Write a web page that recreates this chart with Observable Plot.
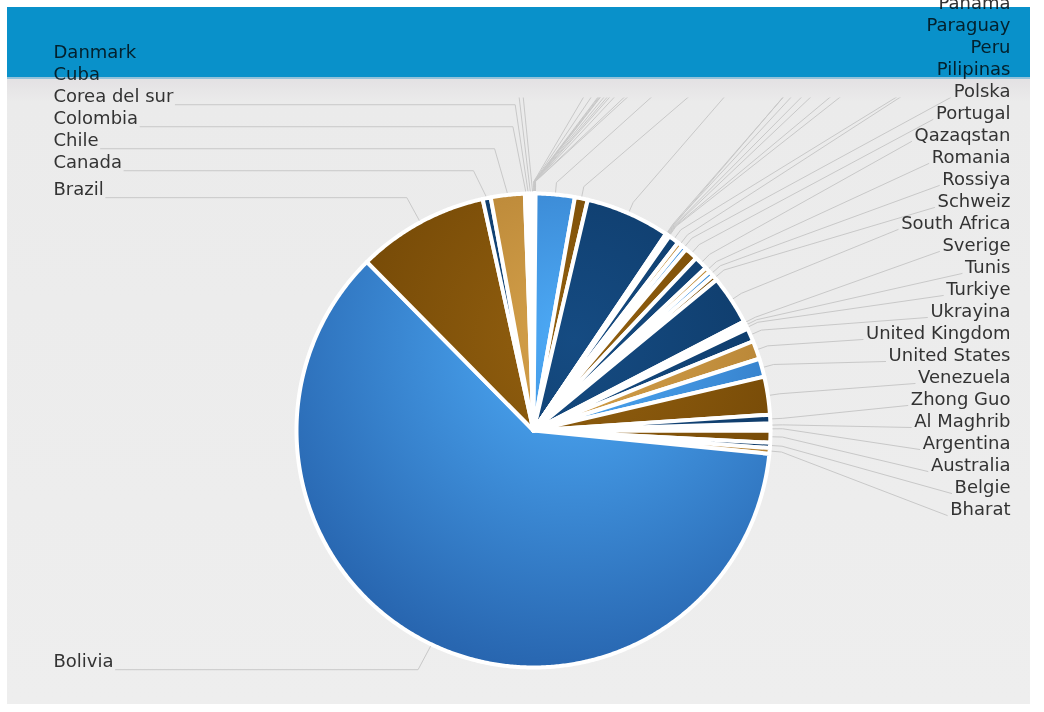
<!DOCTYPE html>
<html>
<head>
<meta charset="utf-8">
<script src="https://cdn.jsdelivr.net/npm/d3@7"></script>
<script src="https://cdn.jsdelivr.net/npm/@observablehq/plot@0.6"></script>
<style>
  body { margin: 0; background: #ffffff; }
  #wrap { position: relative; width: 1044px; height: 712px; overflow: hidden; }
  #bg { position: absolute; left: 7px; top: 7px; width: 1023px; height: 697px;
        background: linear-gradient(to bottom, #e3e1e3 71px, #ebebeb 95px, #eeeeee 100%); }
  #chart { position: absolute; left: 0; top: 0; }
  #band { position: absolute; left: 7px; top: 7px; width: 1023px; height: 70px;
          background: #0aa4e3; mix-blend-mode: multiply; }
  #bandEdge { position: absolute; left: 7px; top: 77px; width: 1023px; height: 2px;
          background: #a6dcf5; mix-blend-mode: multiply; }
</style>
</head>
<body>
<div id="wrap">
  <div id="bg"></div>
  <div id="chart"></div>
  <div id="band"></div>
  <div id="bandEdge"></div>
</div>
<script>
// ---- data (alphabetical order, as drawn clockwise) ----
const countries = ["Al Maghrib","Argentina","Australia","Belgie","Bharat","Bolivia","Brazil","Canada","Chile","Colombia","Corea del sur","Cuba","Danmark","Deutschland","Ecuador","Eesti","Ellada","España","France","Guatemala","Hrvatska","Indonesia","Iran","Italia","Magyarorszag","Mexico","Misr","Nederland","Nihon","Norge","Osterreich","Pakistan","Palestina","Panama","Paraguay","Peru","Pilipinas","Polska","Portugal","Qazaqstan","Romania","Rossiya","Schweiz","South Africa","Sverige","Tunis","Turkiye","Ukrayina","United Kingdom","United States","Venezuela","Zhong Guo"];
const shares = [0.25,0.25,0.81,0.36,0.39,61.03,8.97,0.55,2.31,0.15,0.15,0.15,0.15,0.01,0.01,0.01,0.01,0.01,0.01,0.01,0.01,0.01,0.01,0.01,0.01,2.66,0.88,5.76,0.04,0.04,0.04,0.04,0.04,0.04,0.04,0.72,0.35,0.35,0.90,0.92,0.36,0.36,0.36,3.36,0.18,0.18,0.18,0.92,1.25,1.25,2.58,0.58];

// ---- layout / style ----
const W = 1044, H = 712;
const cx = 533, cy = 430, R = 237;
const deg = Math.PI / 180;
const startDeg = 88.25;
const FONT = 18, FAMILY = "DejaVu Sans";
const leftX = 53, rightX = 1010, rowGap = 22, rightBottom = 509;
// palette cycles: gold, blue, brown, navy  [light, dark]
const palette = [["#d6a24b", "#a6742a"], ["#4eacf8", "#2866b0"], ["#93600f", "#6a4104"], ["#154b82", "#0b335d"]];

const arcs = d3.pie().value(d => d).sort(null)
  .startAngle(startDeg * deg).endAngle(startDeg * deg + 2 * Math.PI)(shares);
const polar = (a, r) => [cx + r * Math.sin(a), cy - r * Math.cos(a)];

// slice polygons
const slicePts = [];
arcs.forEach((a, i) => {
  const name = countries[i];
  const n = Math.max(2, Math.ceil((a.endAngle - a.startAngle) / (0.4 * deg)));
  slicePts.push({name, x: cx, y: cy});
  for (let k = 0; k <= n; k++) {
    const t = a.startAngle + (a.endAngle - a.startAngle) * k / n;
    const [x, y] = polar(t, R);
    slicePts.push({name, x, y});
  }
  slicePts.push({name, x: cx, y: cy});
});

// labels
const ctx = document.createElement("canvas").getContext("2d");
ctx.font = `${FONT}px "${FAMILY}"`;
const TAU = 2 * Math.PI;
const items = arcs.map((a, i) => {
  const mid = (a.startAngle + a.endAngle) / 2;
  const norm = ((mid % TAU) + TAU) % TAU;
  return {name: countries[i], mid, norm, right: norm < Math.PI, w: ctx.measureText(countries[i]).width};
});
const leftLabels = items.filter(d => !d.right).sort((a, b) => a.norm - b.norm);
let prev = Infinity;
for (const d of leftLabels) {
  const ideal = cy - (R + 28) * Math.cos(d.norm) - 8;
  d.ly = Math.min(ideal, prev - rowGap);
  prev = d.ly;
  d.lx = leftX;
}
const rightLabels = items.filter(d => d.right).sort((a, b) => a.norm - b.norm);
rightLabels.forEach((d, i) => {
  d.ly = rightBottom - rowGap * (rightLabels.length - 1 - i);
  d.lx = rightX;
});
// labels stacked entirely above the picture are not drawn (only their leader lines reach in)
const rightShown = rightLabels.filter(d => d.ly > -12);

// leader lines
const leaderPts = [];
for (const d of leftLabels) {
  const [px, py] = polar(d.mid, R + 1);
  leaderPts.push({name: d.name, x: px, y: py});
  leaderPts.push({name: d.name, x: px - 13, y: d.ly + 8});
  leaderPts.push({name: d.name, x: d.lx + d.w + 2, y: d.ly + 8});
}
for (const d of rightLabels) {
  const [px, py] = polar(d.mid, R + 1);
  const [qx, qy] = polar(d.mid, R + 12);
  leaderPts.push({name: d.name, x: px, y: py});
  leaderPts.push({name: d.name, x: qx, y: qy});
  leaderPts.push({name: d.name, x: d.lx - d.w - 3, y: d.ly + 6});
}

const svg = Plot.plot({
  width: W, height: H, margin: 0,
  x: {domain: [0, W], range: [0, W], axis: null},
  y: {domain: [0, H], range: [0, H], axis: null},
  color: {type: "ordinal", domain: countries, range: countries.map((_, i) => `url(#pieGrad${i % 4})`)},
  style: {background: "transparent"},
  marks: [
    Plot.line(leaderPts, {x: "x", y: "y", z: "name", stroke: "#c8c8c8", strokeWidth: 1}),
    Plot.line(slicePts, {x: "x", y: "y", z: "name", fill: "name", stroke: "white", strokeWidth: 4, strokeLinejoin: "round"}),
    Plot.text(leftLabels, {x: "lx", y: "ly", text: "name", textAnchor: "start", fontSize: FONT, fontFamily: FAMILY, fill: "#333333"}),
    Plot.text(rightShown, {x: "lx", y: "ly", text: "name", textAnchor: "end", fontSize: FONT, fontFamily: FAMILY, fill: "#333333"})
  ]
});

const s = d3.select(svg);
const defs = s.insert("defs", ":first-child");
palette.forEach((p, i) => {
  const g = defs.append("radialGradient").attr("id", `pieGrad${i}`)
    .attr("gradientUnits", "userSpaceOnUse")
    .attr("cx", cx + 40).attr("cy", cy - 90).attr("r", 330);
  g.append("stop").attr("offset", 0).attr("stop-color", p[0]);
  g.append("stop").attr("offset", 1).attr("stop-color", p[1]);
});
defs.append("clipPath").attr("id", "leaderClip")
  .append("rect").attr("x", 0).attr("y", 97).attr("width", W).attr("height", H - 97);
s.select('g[aria-label="line"]').attr("clip-path", "url(#leaderClip)");

document.getElementById("chart").appendChild(svg);
</script>
</body>
</html>
